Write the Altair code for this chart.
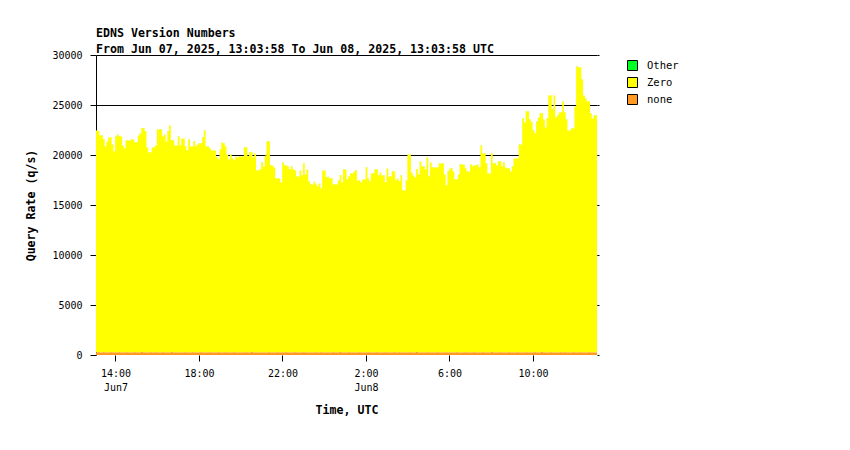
import altair as alt
import pandas as pd

# ---- data (5-minute bins, q/s) ----
START = "2025-06-07T13:03:58Z"
END = "2025-06-08T13:03:58Z"
BIN_MINUTES = 5

SERIES = ["Other", "Zero", "none"]
COLORS = ["#00ff22", "#ffff00", "#ff9922"]

ZERO = [
    22200, 22100, 21700, 21700, 21300, 20600, 21100, 21500, 21500, 20800,
    20100, 21600, 21800, 21600, 21600, 20700, 20400, 21200, 21200, 21200,
    21300, 21300, 21000, 21000, 21700, 21900, 22400, 22400, 22100, 20500,
    20000, 20000, 20500, 20500, 20700, 22300, 22300, 22300, 21600, 21800,
    21100, 22100, 22700, 21200, 21200, 20700, 20700, 21600, 20700, 21400,
    21400, 20600, 20200, 21300, 20600, 20600, 21100, 20600, 20800, 20900,
    20900, 21500, 22200, 20600, 20600, 20400, 20200, 20200, 20200, 19500,
    19300, 20300,
    21000, 20900, 20600, 19800, 19300, 19800, 19400, 19200, 19600, 19500,
    19600, 19600, 19600, 20500, 20500, 19600, 20000, 20000, 19500, 19900,
    18200, 18200, 18300, 19000, 18600, 19700, 21100, 21100, 18700, 18700,
    18500, 17400, 17400, 17400, 17000, 19000, 18700, 18700, 18600, 18300,
    18600, 18300, 18200, 17600, 17600, 18200, 17700, 18900, 17800, 18300,
    17100, 16800, 16800, 17100, 16800, 16600, 16900, 16400, 18200, 18200,
    17500, 17600, 17400, 17400, 16800, 16800, 16800, 17200, 17700, 17000,
    18300, 18300, 17300,
    17600, 17900, 17900, 18100, 18200, 17200, 17200, 17000, 17300, 17300,
    18500, 17400, 17100, 17900, 17900, 18300, 18300, 17700, 18000, 17700,
    17700, 17000, 18400, 17600, 17600, 18100, 18100, 17200, 17400, 17100,
    17700, 16200, 16200, 17200, 19800, 19800, 18000, 17700, 17500, 18300,
    17800, 19100, 18600, 18600, 18300, 19500, 17600, 19000, 18500, 18500,
    18500, 18500, 18900, 18900, 18900, 17800, 16700, 18100, 18400, 18400,
    18100, 17300, 17300, 17800, 18800, 18800, 18800, 18400, 18100, 18100,
    18800, 18600,
    18700, 18700, 18800, 18500, 20700, 19900, 19900, 18900, 17900, 17900,
    19900, 18900, 18900, 18700, 19100, 19100, 18600, 19000, 18500, 18400,
    18400, 18100, 18600, 19400, 19400, 19400, 20800, 20800, 23400, 23000,
    24100, 24100, 23300, 23000, 22200, 21900, 23100, 23500, 23900, 23900,
    23300, 22500, 23400, 25700, 25700, 24300, 25700, 23500, 23700, 24000,
    24000, 25100, 24000, 23300, 22200, 22200, 22400, 22400, 24600, 28600,
    28500, 28500, 27300, 25700, 25400, 25100, 25100, 23900, 23400, 23700,
    23700,
]

NONE = [
    260, 270, 250, 260, 280, 260, 240, 260, 270, 260, 250, 260, 260, 280, 260, 250, 260, 270, 260, 240, 260, 260, 270, 260,
    250, 260, 290, 260, 260, 240, 260, 270, 260, 260, 280, 250, 260, 260, 270, 260, 240, 260, 260, 290, 260, 250, 260, 260,
    260, 240, 260, 270, 260, 260, 250, 280, 260, 260, 240, 260, 270, 260, 260, 250, 260, 280, 260, 240, 260, 260, 270, 250,
    260, 260, 270, 250, 240, 260, 260, 280, 260, 250, 260, 260, 240, 260, 270, 260, 260, 290, 260, 250, 260, 240, 260, 260,
    250, 260, 260, 270, 260, 240, 260, 260, 280, 260, 250, 260, 260, 270, 240, 260, 260, 250, 280, 260, 260, 240, 260, 270,
    260, 250, 260, 260, 240, 260, 270, 260, 260, 280, 250, 260, 260, 240, 260, 260, 270, 260, 250, 260, 290, 260, 260, 240,
    260, 270, 260, 250, 260, 260, 240, 280, 260, 260, 250, 260, 270, 260, 240, 260, 260, 280, 260, 250, 260, 260, 270, 260,
    240, 260, 260, 270, 260, 250, 280, 260, 260, 240, 260, 260, 270, 250, 260, 260, 290, 260, 240, 260, 260, 250, 270, 260,
    260, 260, 250, 260, 280, 260, 240, 260, 260, 270, 260, 250, 260, 240, 260, 280, 260, 260, 250, 260, 270, 260, 240, 260,
    260, 280, 260, 250, 260, 260, 270, 240, 260, 260, 250, 290, 260, 260, 240, 260, 270, 260, 260, 250, 260, 280, 260, 260,
    250, 260, 270, 260, 240, 260, 260, 280, 260, 250, 260, 260, 270, 260, 240, 260, 290, 260, 250, 260, 260, 270, 260, 240,
    260, 260, 250, 270, 260, 280, 260, 240, 260, 260, 270, 250, 260, 260, 280, 260, 240, 260, 260, 270, 260, 250, 260, 260,
]

OTHER = [
    3, 2, 3, 3, 2, 4, 3, 2, 3, 3, 2, 3, 4, 3, 2, 3, 3, 2, 3, 3, 4, 2, 3, 3,
    2, 3, 3, 4, 3, 2, 3, 3, 2, 3, 3, 2, 4, 3, 3, 2, 3, 3, 2, 3, 4, 3, 2, 3,
    3, 3, 2, 3, 3, 4, 2, 3, 3, 2, 3, 3, 2, 3, 4, 3, 3, 2, 3, 3, 2, 3, 3, 4,
    2, 3, 3, 2, 3, 3, 4, 3, 2, 3, 3, 2, 3, 3, 2, 4, 3, 3, 2, 3, 3, 2, 3, 3,
    3, 2, 3, 3, 4, 3, 2, 3, 3, 2, 3, 3, 4, 3, 2, 3, 3, 2, 3, 3, 2, 4, 3, 3,
    2, 3, 3, 4, 3, 2, 3, 3, 2, 3, 3, 2, 3, 4, 3, 3, 2, 3, 3, 2, 3, 3, 4, 3,
    3, 2, 3, 3, 2, 3, 4, 3, 3, 2, 3, 3, 2, 3, 3, 4, 3, 2, 3, 3, 2, 3, 3, 2,
    3, 3, 4, 2, 3, 3, 2, 3, 3, 4, 3, 2, 3, 3, 2, 3, 3, 2, 4, 3, 3, 2, 3, 3,
    2, 3, 3, 2, 3, 4, 3, 3, 2, 3, 3, 2, 3, 3, 4, 3, 2, 3, 3, 2, 3, 3, 2, 3,
    3, 4, 3, 2, 3, 3, 2, 3, 3, 4, 3, 2, 3, 3, 2, 3, 4, 3, 3, 2, 3, 3, 2, 3,
    3, 2, 3, 3, 4, 3, 2, 3, 3, 2, 3, 3, 4, 3, 2, 3, 3, 2, 3, 3, 2, 4, 3, 3,
    2, 3, 3, 4, 3, 2, 3, 3, 2, 3, 3, 2, 3, 4, 3, 3, 2, 3, 3, 2, 3, 3, 4, 3,
]

X_TICKS = [
    "2025-06-07T14:00:00Z", "2025-06-07T18:00:00Z", "2025-06-07T22:00:00Z",
    "2025-06-08T02:00:00Z", "2025-06-08T06:00:00Z", "2025-06-08T10:00:00Z",
]
Y_TICKS = [0, 5000, 10000, 15000, 20000, 25000, 30000]

TITLE = ["EDNS Version Numbers",
         "From Jun 07, 2025, 13:03:58 To Jun 08, 2025, 13:03:58 UTC"]

# ---- build the long table ----
def ms(s):
    return int(pd.Timestamp(s).value // 1_000_000)

start_ms, end_ms = ms(START), ms(END)
n = len(ZERO)
times = [start_ms + i * BIN_MINUTES * 60_000 for i in range(n)] + [end_ms]
series_vals = {"Other": OTHER, "Zero": ZERO, "none": NONE}
order_of = {"none": 0, "Zero": 1, "Other": 2}

rows = []
for name in SERIES:
    vals = series_vals[name]
    for i, t in enumerate(times):
        v = vals[min(i, n - 1)]
        rows.append({"t": t, "series": name, "value": v, "ord": order_of[name]})
df = pd.DataFrame(rows)

FONT = "DejaVu Sans Mono"
x_tick_ms = [ms(s) for s in X_TICKS]

label_expr = (
    "(utchours(datum.value) == 14 || utchours(datum.value) == 2) ? "
    "[utcFormat(datum.value, '%-H:%M'), utcFormat(datum.value, '%b%-d')] : "
    "utcFormat(datum.value, '%-H:%M')"
)

x_enc = alt.X(
    "t:T",
    scale=alt.Scale(type="utc", domain=[start_ms, end_ms]),
    axis=alt.Axis(
        values=x_tick_ms, labelExpr=label_expr, domain=False, grid=False,
        tickSize=6, tickColor="black", labelPadding=7, labelLineHeight=14,
        labelFont=FONT, labelFontSize=10, labelColor="black",
        title="Time, UTC", titleFont=FONT, titleFontSize=11.6,
        titleFontWeight="bold", titlePadding=12, titleColor="black",
    ),
)

area = alt.Chart(df).mark_area(interpolate="step-after", opacity=1, strokeWidth=0).encode(
    x=x_enc,
    y=alt.Y(
        "value:Q", stack="zero",
        scale=alt.Scale(domain=[0, 30000], nice=False),
        axis=alt.Axis(
            values=Y_TICKS, format="d", grid=True, gridColor="black",
            gridOpacity={"condition": {"test": "datum.value === 0", "value": 0}, "value": 1},
            gridWidth=1, domain=True, domainColor="black", tickColor="black",
            tickSize=6, labelPadding=8, labelFont=FONT, labelFontSize=10,
            labelColor="black", title="Query Rate (q/s)", titleFont=FONT,
            titleFontSize=11.6, titleFontWeight="bold", titlePadding=15,
            titleColor="black",
        ),
    ),
    color=alt.Color(
        "series:N",
        scale=alt.Scale(domain=SERIES, range=COLORS),
        legend=alt.Legend(
            title=None, orient="none", legendX=531, legendY=5, symbolType="square",
            symbolSize=100, symbolStrokeColor="black", symbolStrokeWidth=1,
            symbolOpacity=1, labelFont=FONT, labelFontSize=10.5, labelColor="black",
            labelOffset=9, rowPadding=2, padding=0,
        ),
    ),
    order=alt.Order("ord:Q"),
)

right_ticks = alt.Chart(df).mark_point(opacity=0).encode(
    x=alt.X("t:T", scale=alt.Scale(type="utc", domain=[start_ms, end_ms])),
    y=alt.Y(
        "value:Q", scale=alt.Scale(domain=[0, 30000], nice=False),
        axis=alt.Axis(orient="right", labels=False, domain=False, grid=False,
                      ticks=True, tickSize=2, tickColor="black", values=Y_TICKS,
                      title=None),
    ),
)

chart = (
    alt.layer(area, right_ticks)
    .resolve_axis(y="independent")
    .properties(
        width=501, height=300,
        autosize=alt.AutoSizeParams(type="none"),
        padding={"left": 88, "top": 47, "right": 240, "bottom": 80},
        title=alt.TitleParams(
            text=TITLE, anchor="start", frame="group", font=FONT, fontSize=11.6,
            fontWeight="bold", lineHeight=16, offset=-6, color="black",
        ),
        background="white",
    )
    .configure_view(stroke=None)
)

chart.save("out.html", embed_options={"renderer": "svg", "actions": False})
